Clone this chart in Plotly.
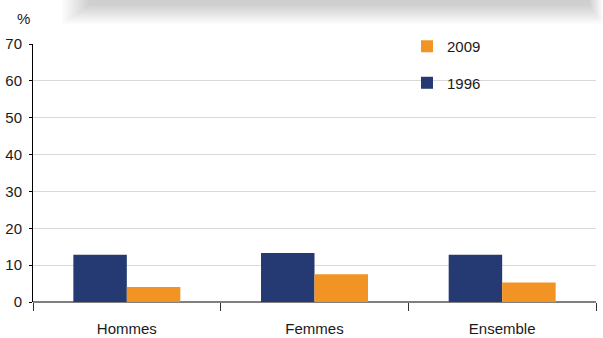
import plotly.graph_objects as go

categories = ["Hommes", "Femmes", "Ensemble"]
values_1996 = [12.8, 13.3, 12.8]
values_2009 = [4.1, 7.5, 5.3]
y_ticks = [0, 10, 20, 30, 40, 50, 60, 70]

FONT = "Liberation Sans, Arial, sans-serif"
FS = 15
NAVY = "#253a73"
ORANGE = "#f29423"
TXT = "#1a1a1a"

W, H = 603, 338
L, R, T, B = 33, 7, 44, 35.5
pw, ph = W - L - R, H - T - B

def px(x):
    return (x - L) / pw

def py(y):
    return (H - B - y) / ph

fig = go.Figure()
fig.add_trace(go.Bar(name="1996", x=categories, y=values_1996, marker_color=NAVY,
                     marker_line_width=0, legendgroup="a", legendrank=2))
fig.add_trace(go.Bar(name="2009", x=categories, y=values_2009, marker_color=ORANGE,
                     marker_line_width=0, legendgroup="b", legendrank=1))

# soft shadow at top (decorative)
shapes = []
n = 12
for i in range(n):
    shapes.append(dict(type="rect", xref="paper", yref="paper",
                       x0=px(62 + i * 2.4), x1=px(603 - i * 1.2),
                       y0=py(24 - i * 1.7), y1=py(-5),
                       fillcolor="rgba(0,0,0,0.017)", line_width=0, layer="below"))

fig.update_layout(
    width=W, height=H,
    margin=dict(l=L, r=R, t=T, b=B, pad=0, autoexpand=False),
    paper_bgcolor="white", plot_bgcolor="white",
    font=dict(family=FONT, size=FS, color=TXT),
    barmode="group", bargap=0.43, bargroupgap=0,
    showlegend=True,
    legend=dict(x=px(407), y=py(30), xanchor="left", yanchor="top",
                traceorder="grouped", tracegroupgap=14,
                font=dict(family=FONT, size=FS, color=TXT),
                bgcolor="rgba(0,0,0,0)", itemwidth=30),
    shapes=shapes,
    annotations=[dict(text="%", xref="paper", yref="paper", x=px(23), y=py(18),
                      xanchor="center", yanchor="middle", showarrow=False,
                      font=dict(family=FONT, size=FS, color=TXT))],
    xaxis=dict(showgrid=False, showline=False, ticks="outside", tickson="boundaries",
               ticklen=8, tickcolor="#333333", tickwidth=1, automargin=False,
               tickfont=dict(family=FONT, size=FS, color=TXT),
               ticklabelstandoff=16),
    yaxis=dict(range=[0, 70], tickvals=y_ticks, showgrid=True, gridcolor="#d9d9d9",
               gridwidth=1, showline=True, linecolor="#000000", linewidth=1,
               ticks="outside", ticklen=3, tickcolor="#000000", automargin=False,
               zeroline=True, zerolinecolor="#7f7f7f", zerolinewidth=2,
               tickfont=dict(family=FONT, size=FS, color=TXT),
               ticklabelstandoff=4),
)

fig.write_html("out.html", config={"displayModeBar": False},
               post_script="document.body.style.margin='0';document.body.style.overflow='hidden';")
